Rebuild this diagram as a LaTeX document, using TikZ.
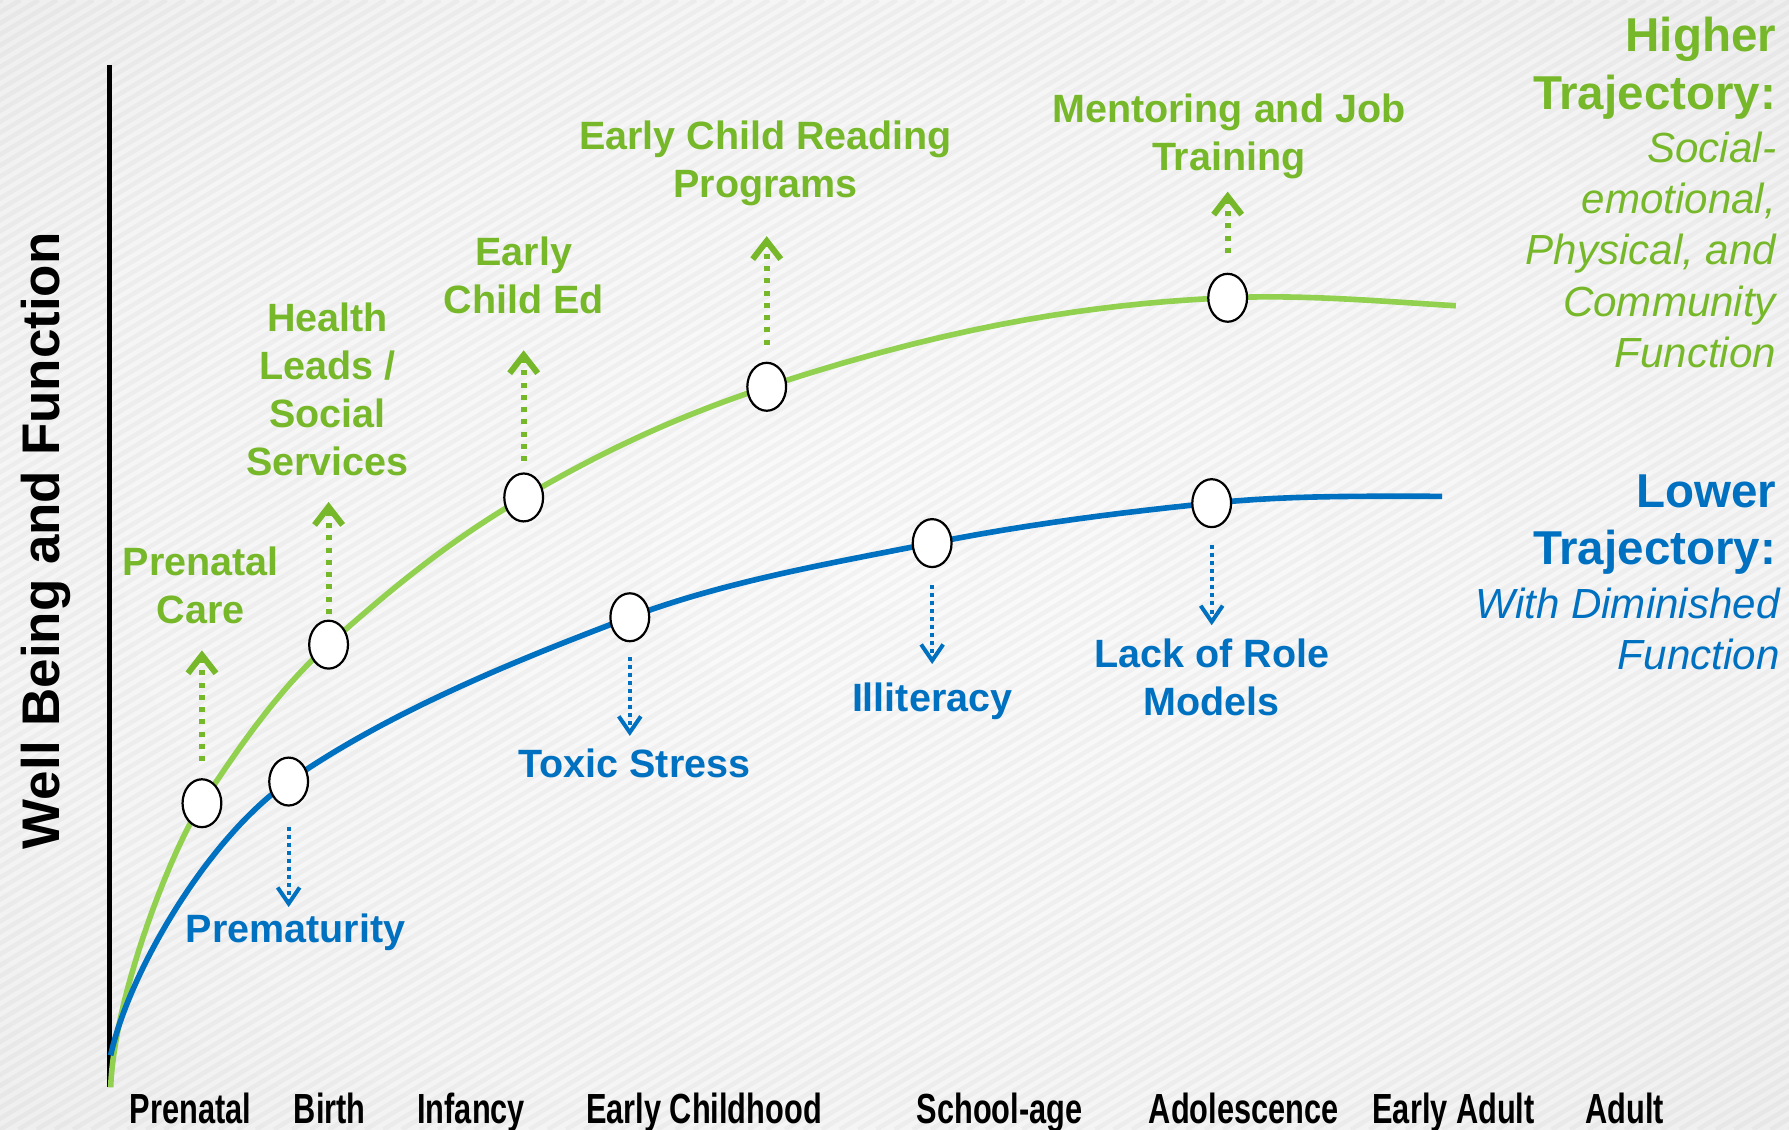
\documentclass[tikz,border=0pt]{standalone}
\usepackage{fontspec}
\setmainfont{Liberation Sans}
\newfontfamily\narrowfont{Liberation Sans}[FakeStretch=0.73]
\usetikzlibrary{shapes.geometric,arrows.meta}

\definecolor{leafgreen}{HTML}{76B82A}
\definecolor{curvegreen}{HTML}{92D050}
\definecolor{trajblue}{HTML}{0070C0}

\pgfdeclareradialshading{backdrop}{\pgfpoint{0bp}{0bp}}{%
  color(0bp)=(white!98!black); color(25bp)=(white!96!black);
  color(50bp)=(white!90!black); color(72bp)=(white!84!black)}

\tikzset{
  stripe/.style={black, opacity=0.03, line width=2.3pt},
  axisline/.style={black, line width=2.9pt},
  highcurve/.style={curvegreen, line width=2.8pt},
  lowcurve/.style={trajblue, line width=2.8pt},
  stagedot/.style={ellipse, draw=black, fill=white, line width=1.1pt,
    minimum width=6.8mm, minimum height=8.4mm, inner sep=0pt},
  uparrow/.style={leafgreen, line width=3pt, dash pattern=on 2.5pt off 3.6pt,
    -{Straight Barb[length=9pt,width=14pt]}, shorten <=3mm},
  downarrow/.style={trajblue, line width=2pt, dash pattern=on 2pt off 2pt,
    -{Straight Barb[length=8pt,width=11pt]}, shorten <=3mm},
  gainlab/.style={font=\bfseries\fontsize{19.7}{23.9}\selectfont, text=leafgreen,
    align=center, anchor=north, inner sep=0pt},
  losslab/.style={gainlab, text=trajblue},
  tagtitle/.style={font=\bfseries\fontsize{23.7}{28.5}\selectfont,
    align=right, anchor=north east, inner sep=0pt},
  tagnote/.style={font=\itshape\fontsize{21}{25.6}\selectfont,
    align=right, anchor=north east, inner sep=0pt},
  stagelab/.style={font=\narrowfont\bfseries\fontsize{21}{24}\selectfont,
    anchor=north, inner sep=0pt},
}

\begin{document}
\begin{tikzpicture}[x=0.2mm, y=-0.2mm]
  \useasboundingbox (0,0) rectangle (1568,990);
  % backdrop
  \shade[shading=backdrop] (0,0) rectangle (1568,990);
  \begin{scope}
    \clip (0,0) rectangle (1568,990);
    \foreach \s in {-1680,-1664,...,1568}
      \draw[stripe] (\s,990) -- ++(1650,-990);
  \end{scope}

  % axis
  \draw[axisline] (96,57) -- (96,953);

  % trajectory points
  \coordinate (h0) at (97,953);
  \coordinate (h1) at (177,704);
  \coordinate (h2) at (288,565);
  \coordinate (h3) at (459,436);
  \coordinate (h4) at (672,339);
  \coordinate (h5) at (1076,261);
  \coordinate (h6) at (1276,268);
  \coordinate (l0) at (97,925);
  \coordinate (l1) at (253,685);
  \coordinate (l2) at (552,541);
  \coordinate (l3) at (817,476);
  \coordinate (l4) at (1062,441);
  \coordinate (l5) at (1264,435);

  % trajectories
  \draw[highcurve] (h0) .. controls +(3,-80) and +(-27,41) .. (h1)
    .. controls +(38,-58) and +(-40,36) .. (h2)
    .. controls +(60,-54) and +(-60,35) .. (h3)
    .. controls +(75,-44) and +(-75,25) .. (h4)
    .. controls +(140,-46) and +(-140,6) .. (h5)
    .. controls +(64,-3) and +(-66,-4) .. (h6);
  \draw[lowcurve] (l0) .. controls +(15,-70) and +(-73,51) .. (l1)
    .. controls +(90,-63) and +(-90,34) .. (l2)
    .. controls +(85,-32) and +(-85,17) .. (l3)
    .. controls +(80,-16) and +(-80,8) .. (l4)
    .. controls +(68,-7) and +(-68,0) .. (l5);

  % stage dots
  \node[stagedot] (g1) at (h1) {};
  \node[stagedot] (g2) at (h2) {};
  \node[stagedot] (g3) at (h3) {};
  \node[stagedot] (g4) at (h4) {};
  \node[stagedot] (g5) at (h5) {};
  \node[stagedot] (b1) at (l1) {};
  \node[stagedot] (b2) at (l2) {};
  \node[stagedot] (b3) at (l3) {};
  \node[stagedot] (b4) at (l4) {};

  % arrow tips
  \coordinate (gt1) at (177,570);
  \coordinate (gt2) at (288,440);
  \coordinate (gt3) at (459,307);
  \coordinate (gt4) at (672,207);
  \coordinate (gt5) at (1076,168);
  \coordinate (bt1) at (253,795);
  \coordinate (bt2) at (552,645);
  \coordinate (bt3) at (817,582);
  \coordinate (bt4) at (1062,548);

  \draw[uparrow] (g1) -- (gt1);
  \draw[uparrow, shorten <=1mm] (g2) -- (gt2);
  \draw[uparrow, shorten <=2mm] (g3) -- (gt3);
  \draw[uparrow] (g4) -- (gt4);
  \draw[uparrow, shorten <=3.5mm] (g5) -- (gt5);
  \draw[downarrow, shorten <=3.5mm] (b1) -- (bt1);
  \draw[downarrow, shorten <=2.6mm] (b2) -- (bt2);
  \draw[downarrow] (b3) -- (bt3);
  \draw[downarrow] (b4) -- (bt4);

  % supports
  \node[gainlab] (care) at (176,479) {Prenatal\\Care};
  \node[gainlab] (leads) at (287,265) {Health\\Leads /\\Social\\Services};
  \node[gainlab] (childed) at (459,207) {Early\\Child Ed};
  \node[gainlab] (reading) at (671,106) {Early Child Reading\\Programs};
  \node[gainlab] (mentor) at (1077,82) {Mentoring and Job\\Training};

  % risks
  \node[losslab] (prem) at (259,801) {Prematurity};
  \node[losslab] (toxic) at (556,656) {Toxic Stress};
  \node[losslab] (illit) at (817,598) {Illiteracy};
  \node[losslab] (rolemod) at (1062,560) {Lack of Role\\Models};

  % trajectory tags
  \node[tagtitle, text=leafgreen] (hightag) at (1557,15) {Higher\\Trajectory:};
  \node[tagnote, text=leafgreen] (highnote) at (1557,115)
    {Social-\\emotional,\\Physical, and\\Community\\Function};
  \node[tagtitle, text=trajblue] (lowtag) at (1557,416) {Lower\\Trajectory:};
  \node[tagnote, text=trajblue] (lownote) at (1560,515) {With Diminished\\Function};

  % axis titles
  \node[font=\bfseries\fontsize{26.4}{30}\selectfont, rotate=90, anchor=base,
    inner sep=0pt] (ytitle) at (52,474) {Well Being and Function};
  \node[stagelab] (sPrenatal) at (167,958) {Prenatal};
  \node[stagelab] (sBirth) at (289,958) {Birth};
  \node[stagelab] (sInfancy) at (413,958) {Infancy};
  \node[stagelab] (sEarly) at (617,958) {Early Childhood};
  \node[stagelab] (sSchool) at (876,958) {School-age};
  \node[stagelab] (sAdol) at (1090,958) {Adolescence};
  \node[stagelab] (sYoung) at (1274,958) {Early Adult};
  \node[stagelab] (sAdult) at (1424,958) {Adult};
\end{tikzpicture}
\end{document}
